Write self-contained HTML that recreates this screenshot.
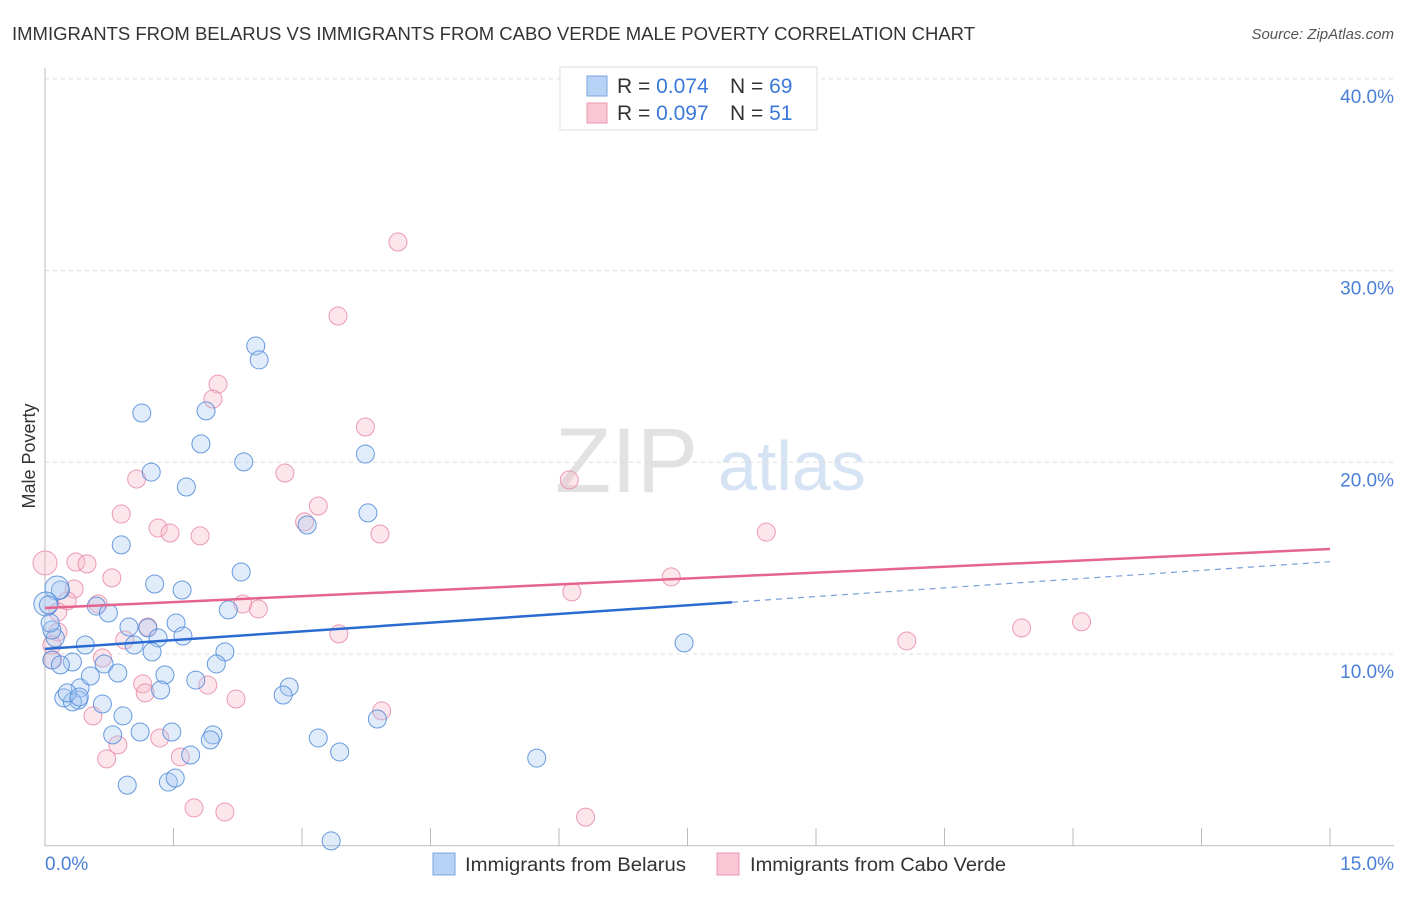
<!DOCTYPE html>
<html><head><meta charset="utf-8"><style>
body{margin:0;background:#fff;font-family:"Liberation Sans",sans-serif}
svg text{font-family:"Liberation Sans",sans-serif}
</style></head><body>
<svg width="1406" height="892" viewBox="0 0 1406 892">
<text x="12" y="40" font-size="18" fill="#333" textLength="963" lengthAdjust="spacingAndGlyphs">IMMIGRANTS FROM BELARUS VS IMMIGRANTS FROM CABO VERDE MALE POVERTY CORRELATION CHART</text>
<text x="1394" y="39" font-size="15" fill="#555" font-style="italic" text-anchor="end">Source: ZipAtlas.com</text>
<g>
<text x="555" y="492" font-size="92" fill="#e2e2e2" font-family="Liberation Serif">ZIP</text>
<text x="718" y="490" font-size="70" fill="#d6e3f4">atlas</text>
</g>
<g id="grid"></g>
<g id="axes"></g>
<g id="trend"></g>
<g id="pts"></g>
<text x="35" y="456" font-size="18" fill="#333" text-anchor="middle" transform="rotate(-90 35 456)">Male Poverty</text>
<text x="45" y="870" font-size="19" fill="#4a7fd6">0.0%</text>
<text x="1394" y="870" font-size="19" fill="#4a7fd6" text-anchor="end">15.0%</text>
<g>
<rect x="560" y="67" width="257" height="63" fill="#fff" stroke="#ddd"/>
<rect x="587" y="76" width="20" height="20" fill="#b8d3f5" stroke="#7aa6e0"/>
<rect x="587" y="103" width="20" height="20" fill="#f9c6d4" stroke="#e99ab2"/>
<text x="617" y="93" font-size="21" fill="#333">R = <tspan fill="#3b78d8">0.074</tspan><tspan x="730">N = </tspan><tspan fill="#3b78d8">69</tspan></text>
<text x="617" y="120" font-size="21" fill="#333">R = <tspan fill="#3b78d8">0.097</tspan><tspan x="730">N = </tspan><tspan fill="#3b78d8"> 51</tspan></text>
</g>
<g>
<rect x="433" y="853" width="22" height="22" fill="#b8d3f5" stroke="#7aa6e0"/>
<text x="465" y="871" font-size="19" fill="#333" textLength="221" lengthAdjust="spacingAndGlyphs">Immigrants from Belarus</text>
<rect x="717" y="853" width="22" height="22" fill="#f9c6d4" stroke="#e99ab2"/>
<text x="750" y="871" font-size="19" fill="#333" textLength="256" lengthAdjust="spacingAndGlyphs">Immigrants from Cabo Verde</text>
</g>
</svg>
<script>
const yTicks=[10,20,30,40];
const yTickLabels=["10.0%","20.0%","30.0%","40.0%"];
const xTicks=[0,1.5,3,4.5,6,7.5,9,10.5,12,13.5,15];
const blueX=[2.46,2.50,1.13,1.88,1.82,2.32,3.74,1.24,1.65,3.77,3.06,0.89,2.29,1.28,1.60,0.60,0.74,0.18,2.14,0.98,1.20,1.53,1.61,1.32,1.04,0.47,1.25,2.10,0.12,0.08,0.32,0.69,0.85,1.40,2.00,1.76,2.85,2.78,0.41,0.39,0.53,0.22,0.32,0.67,0.91,1.35,3.88,1.11,1.48,0.79,1.96,1.93,3.19,3.44,1.70,5.74,0.96,1.44,1.52,3.34,7.46,0.08,0.14,0.01,0.06,0.26,0.40,0.18,0.04];
const blueY=[26.07,25.34,22.57,22.68,20.96,20.02,20.43,19.49,18.71,17.36,16.73,15.69,14.28,13.65,13.34,12.50,12.14,13.34,12.30,11.41,11.36,11.62,10.94,10.84,10.47,10.47,10.11,10.11,10.84,9.69,9.58,9.48,9.01,8.91,9.48,8.64,8.28,7.86,8.23,7.60,8.85,7.71,7.50,7.39,6.77,8.12,6.61,5.93,5.93,5.78,5.78,5.52,5.62,4.89,4.73,4.57,3.16,3.32,3.53,0.25,10.58,11.25,13.44,12.61,11.62,7.97,7.76,9.43,12.56];
const pinkX=[4.12,3.42,2.02,1.96,3.74,2.80,6.12,1.07,3.19,3.03,0.89,1.32,1.46,1.81,3.91,8.42,0.00,0.36,0.49,0.78,0.34,0.26,0.62,1.20,0.93,2.31,2.49,3.43,0.67,0.15,0.08,0.09,7.31,6.15,10.06,11.40,12.10,1.14,1.17,1.90,2.23,3.93,0.56,1.34,0.85,0.72,1.58,1.74,2.10,6.31,0.15];
const pinkY=[31.49,27.63,24.08,23.30,21.84,19.44,19.08,19.13,17.72,16.89,17.30,16.57,16.31,16.16,16.26,16.36,14.75,14.80,14.70,13.97,13.39,12.77,12.61,11.41,10.73,12.61,12.35,11.05,9.79,11.15,10.47,9.69,14.02,13.24,10.68,11.36,11.68,8.44,7.97,8.38,7.65,7.03,6.77,5.62,5.26,4.53,4.63,1.97,1.76,1.49,12.2];
const blueBig=[62,63];
const pinkBig=[16];
const blueTrend=[10.27,0.303,8.02];
const pinkTrend=[12.40,0.205];
const NS="http://www.w3.org/2000/svg";
const X=v=>45+v*(1285/15), Y=v=>845.7-v*19.17;
function mk(t,a,p){const e=document.createElementNS(NS,t);for(const k in a)e.setAttribute(k,a[k]);p.appendChild(e);return e;}
const grid=document.getElementById('grid'),axes=document.getElementById('axes'),trend=document.getElementById('trend'),pts=document.getElementById('pts');
yTicks.forEach((t,i)=>{
 const l=mk('line',{x1:45,x2:1394,y1:Y(t),y2:Y(t),stroke:'#ddd','stroke-dasharray':'4,4'},grid);
 
 
 const tx=mk('text',{x:1394,y:Y(t)+24,'font-size':19,fill:'#4a7fd6','text-anchor':'end'},grid);
 tx.textContent=yTickLabels[i];
 
 
});
const ax=mk('line',{x1:45,x2:1394,y1:845.7,y2:845.7,stroke:'#bbb'},axes);


const ay=mk('line',{x1:45,x2:45,y1:68,y2:845.7,stroke:'#bbb'},axes);


xTicks.forEach(t=>{
 const l=mk('line',{x1:X(t),x2:X(t),y1:828,y2:845.7,stroke:'#bbb'},axes);
 
 
});
function dot(x,y,r,fill,stroke,name){
 const c=mk('circle',{cx:X(x),cy:Y(y),r:r,fill:fill,'fill-opacity':0.35,stroke:stroke,'stroke-width':1,'stroke-opacity':0.85},pts);
 
 
}
pinkX.forEach((x,i)=>dot(x,pinkY[i],pinkBig.includes(i)?12:9,'#f7b6c9','#e88aa7','point-caboverde'));
blueX.forEach((x,i)=>dot(x,blueY[i],blueBig.includes(i)?12:9,'#a9c9f1','#4f8ad9','point-belarus'));
const b1=mk('line',{x1:X(0),y1:Y(blueTrend[0]),x2:X(blueTrend[2]),y2:Y(blueTrend[0]+blueTrend[1]*blueTrend[2]),stroke:'#2a6bd1','stroke-width':2.5},trend);


const b2=mk('line',{x1:X(blueTrend[2]),y1:Y(blueTrend[0]+blueTrend[1]*blueTrend[2]),x2:X(15),y2:Y(blueTrend[0]+blueTrend[1]*15),stroke:'#7aa0d8','stroke-width':1.2,'stroke-dasharray':'6,5'},trend);


const p1=mk('line',{x1:X(0),y1:Y(pinkTrend[0]),x2:X(15),y2:Y(pinkTrend[0]+pinkTrend[1]*15),stroke:'#e5648e','stroke-width':2.5},trend);


document.querySelector('svg').appendChild(trend);
</script>
</body></html>
